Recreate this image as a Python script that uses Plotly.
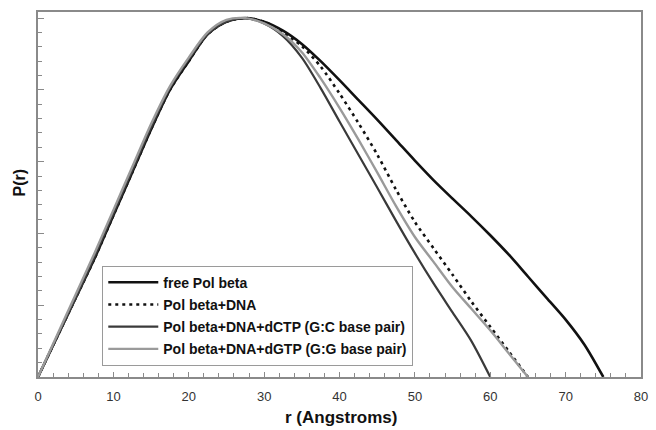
import plotly.graph_objects as go

r_vals = [0, 2.5, 5, 7.5, 10, 12.5, 15, 17.5, 20, 22.5, 25, 27.5, 30, 32.5, 35,
          37.5, 40, 42.5, 45, 47.5, 50, 52.5, 55, 57.5, 60, 62.5, 65, 67.5, 70, 72.5, 75]

free_pol = [0, 0.11, 0.22, 0.33, 0.45, 0.57, 0.69, 0.80, 0.88, 0.955, 0.99, 1.0, 0.99, 0.965, 0.928,
            0.88, 0.827, 0.772, 0.717, 0.66, 0.603, 0.548, 0.497, 0.447, 0.395, 0.34, 0.28, 0.22, 0.16, 0.09, 0]
pol_dna = [0, 0.11, 0.22, 0.33, 0.45, 0.57, 0.69, 0.80, 0.88, 0.955, 0.99, 1.0, 0.99, 0.96, 0.922,
           0.865, 0.79, 0.708, 0.62, 0.522, 0.432, 0.358, 0.285, 0.21, 0.14, 0.07, 0]
pol_dctp = [0, 0.11, 0.22, 0.335, 0.455, 0.575, 0.695, 0.805, 0.885, 0.955, 0.99, 1.0, 0.985, 0.95, 0.89,
            0.805, 0.712, 0.62, 0.528, 0.435, 0.345, 0.26, 0.18, 0.10, 0]
pol_dgtp = [0, 0.115, 0.23, 0.345, 0.465, 0.585, 0.705, 0.81, 0.89, 0.96, 0.995, 1.0, 0.985, 0.955, 0.905,
            0.832, 0.75, 0.662, 0.57, 0.476, 0.39, 0.32, 0.25, 0.19, 0.13, 0.065, 0]

series = [
    ("free Pol beta", free_pol, dict(color="#111111", width=2.6)),
    ("Pol beta+DNA", pol_dna, dict(color="#111111", width=2.6, dash="3px,4px")),
    ("Pol beta+DNA+dCTP (G:C base pair)", pol_dctp, dict(color="#3a3a3a", width=2.2)),
    ("Pol beta+DNA+dGTP (G:G base pair)", pol_dgtp, dict(color="#9a9a9a", width=2.4)),
]

fig = go.Figure()
for i, (name, vals, line) in enumerate(series):
    fig.add_trace(go.Scatter(x=r_vals[:len(vals)], y=vals, mode="lines", name=name,
                             line=dict(shape="spline", smoothing=0.8, **line),
                             legendgroup=f"g{i}"))

axis_common = dict(showline=True, linecolor="#8a8a8a", linewidth=1.5, mirror=True,
                   showgrid=False, zeroline=False, ticks="inside", tickcolor="#8a8a8a")

fig.update_xaxes(range=[0, 80], tickmode="linear", tick0=0, dtick=10, ticklen=5,
                 tickfont=dict(family="Liberation Sans, Arial", size=13, color="#333333"),
                 ticklabelstandoff=7,
                 minor=dict(ticks="inside", dtick=2, ticklen=4, tickcolor="#8a8a8a"),
                 **axis_common)
fig.update_yaxes(range=[0, 1.017], tickmode="linear", tick0=0, dtick=0.2, ticklen=6,
                 showticklabels=False,
                 minor=dict(ticks="inside", dtick=0.04, ticklen=4, tickcolor="#8a8a8a"),
                 **axis_common)

fig.update_layout(
    width=656, height=430,
    margin=dict(l=38, r=8, t=12, b=53),
    paper_bgcolor="white", plot_bgcolor="white",
    font=dict(family="Liberation Sans, Arial", color="#111111"),
    legend=dict(x=0.1066, y=0.305, xanchor="left", yanchor="top",
                bordercolor="#9a9a9a", borderwidth=1, bgcolor="white",
                font=dict(family="Liberation Sans, Arial", size=14, color="#111111", weight="bold"),
                itemwidth=50, tracegroupgap=1),
    annotations=[
        dict(text="<b>r (Angstroms)</b>", x=0.503, y=-0.11, xref="paper", yref="paper",
             xanchor="center", yanchor="middle", showarrow=False,
             font=dict(family="Liberation Sans, Arial", size=17, color="#111111")),
        dict(text="<b>P(r)</b>", x=-0.031, y=0.534, xref="paper", yref="paper",
             xanchor="center", yanchor="middle", showarrow=False, textangle=-90,
             font=dict(family="Liberation Sans, Arial", size=16, color="#111111")),
    ],
)

fig.write_html("out.html")
